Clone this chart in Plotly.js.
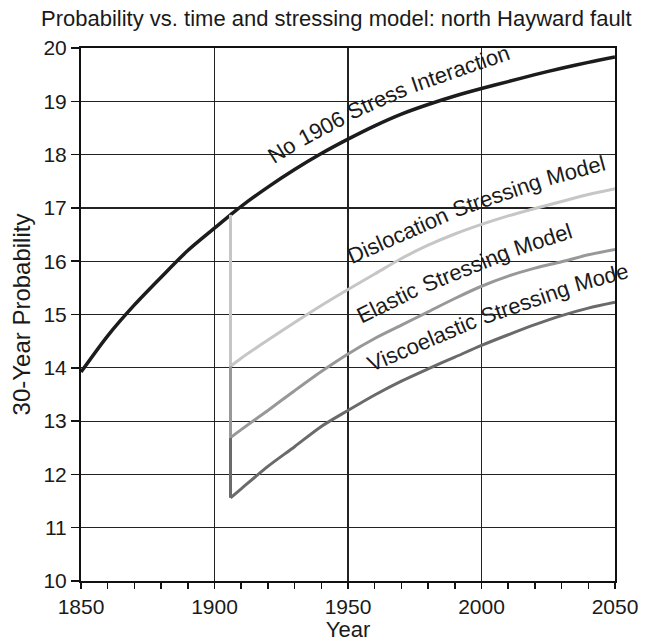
<!DOCTYPE html>
<html>
<head>
<meta charset="utf-8">
<script src="https://cdn.plot.ly/plotly-3.0.1.min.js"></script>
<style>html,body{margin:0;padding:0;background:#fff;}#chart{width:666px;height:642px;}</style>
</head>
<body>
<div id="chart"></div>
<script>
// ---- data ----
var noStressYears = [1850,1860,1870,1880,1890,1900,1906,1910,1920,1930,1940,1950,1960,1970,1980,1990,2000,2010,2020,2030,2040,2050];
var noStressProb  = [13.92,14.6,15.18,15.7,16.2,16.62,16.87,17.03,17.39,17.72,18.02,18.29,18.54,18.76,18.94,19.1,19.24,19.37,19.5,19.62,19.73,19.83];

// first entry = top of the 1906 drop, second = value just after the drop
var modelYears = [1906,1906,1910,1920,1930,1940,1950,1960,1970,1980,1990,2000,2010,2020,2030,2040,2050];
var dislocationProb  = [16.87,14.03,14.18,14.52,14.85,15.17,15.47,15.76,16.05,16.3,16.51,16.69,16.85,16.99,17.12,17.25,17.36];
var elasticProb      = [14.03,12.69,12.84,13.2,13.57,13.93,14.26,14.55,14.8,15.05,15.3,15.53,15.72,15.87,15.99,16.12,16.22];
var viscoelasticProb = [12.69,11.56,11.73,12.15,12.52,12.9,13.2,13.49,13.75,13.98,14.2,14.42,14.62,14.81,14.98,15.12,15.23];

var seriesNames = ["No 1906 Stress Interaction","Dislocation Stressing Model","Elastic Stressing Model","Viscoelastic Stressing Mode"];

// curved in-plot labels: baseline start (year, probability) and one angle per word
var labelStartX = [1922.7,1951.8,1955.7,1959.2];
var labelStartY = [17.77,15.90,14.78,13.88];
var labelWordAngle = [[32,28,24,19],[24,19,15],[26,22,18],[23,19,15]];

var xTicks = [1850,1900,1950,2000,2050];
var yTicks = [10,11,12,13,14,15,16,17,18,19,20];

var FONT = "'Liberation Sans', Arial, Helvetica, sans-serif";
var LABEL_SIZE = 22;
var colors = ["#1c1c1c","#c6c6c6","#989898","#6a6a6a"];
var widths = [3.5,3,3,3];
var M = {l: 81, r: 51, t: 48, b: 61}, W = 666, H = 642;
var X0 = 1850, X1 = 2050, Y0 = 10, Y1 = 20;

var modelSeries = [dislocationProb, elasticProb, viscoelasticProb];

var traces = [
  {x: noStressYears, y: noStressProb, mode: "lines", line: {color: colors[0], width: widths[0], shape: "spline", smoothing: 0.8}, name: seriesNames[0]}
];
modelSeries.forEach(function(s, i){
  traces.push({x: modelYears.slice(0,2), y: s.slice(0,2), mode: "lines",
               line: {color: colors[i+1], width: widths[i+1]}, name: seriesNames[i+1]});
  traces.push({x: modelYears.slice(1), y: s.slice(1), mode: "lines",
               line: {color: colors[i+1], width: widths[i+1], shape: "spline", smoothing: 0.8}, name: seriesNames[i+1]});
});

// lay words along a bent baseline, measuring real text widths
var pxPerX = (W - M.l - M.r) / (X1 - X0), pxPerY = (H - M.t - M.b) / (Y1 - Y0);
var ctx = document.createElement("canvas").getContext("2d");
ctx.font = LABEL_SIZE + "px " + FONT;
var spaceW = ctx.measureText(" ").width;
var annotations = [];
seriesNames.forEach(function(name, i){
  var px = M.l + (labelStartX[i] - X0) * pxPerX;
  var py = M.t + (Y1 - labelStartY[i]) * pxPerY;
  name.split(" ").forEach(function(word, j){
    var a = labelWordAngle[i][j] * Math.PI / 180;
    var w = ctx.measureText(word).width;
    var ux = Math.cos(a), uy = -Math.sin(a);      // along text
    var nx = -Math.sin(a), ny = -Math.cos(a);     // up from baseline
    var up = 0.46 * LABEL_SIZE;
    var cx = px + ux * w / 2 + nx * up, cy = py + uy * w / 2 + ny * up;
    annotations.push({x: X0 + (cx - M.l) / pxPerX, y: Y1 - (cy - M.t) / pxPerY, xref: "x", yref: "y",
                      text: word, showarrow: false, textangle: -labelWordAngle[i][j],
                      font: {family: FONT, size: LABEL_SIZE, color: "#1a1a1a"}});
    px += ux * (w + spaceW); py += uy * (w + spaceW);
  });
});

var layout = {
  width: W, height: H,
  margin: M,
  paper_bgcolor: "#fff", plot_bgcolor: "#fff",
  showlegend: false,
  title: {text: "Probability vs. time and stressing model: north Hayward fault",
          font: {family: FONT, size: 22, color: "#1a1a1a"},
          x: 0.505, xref: "container", xanchor: "center", y: 0.972, yref: "container", yanchor: "middle"},
  xaxis: {range: [X0, X1], tickvals: xTicks, ticks: "outside", ticklen: 6, tickwidth: 1.5, tickcolor: "#111",
          minor: {dtick: 10, tick0: 1850, ticks: "outside", ticklen: 6, tickwidth: 1.5, tickcolor: "#111", showgrid: false},
          showgrid: true, gridcolor: "#222", gridwidth: 1.2,
          showline: true, linecolor: "#111", linewidth: 2, mirror: true, zeroline: false,
          tickfont: {family: FONT, size: 21, color: "#1a1a1a"},
          title: {text: "Year", font: {family: FONT, size: 22, color: "#1a1a1a"}, standoff: 3}},
  yaxis: {range: [Y0, Y1], tickvals: yTicks, ticks: "outside", ticklen: 8, tickwidth: 1.5, tickcolor: "#111",
          showgrid: true, gridcolor: "#222", gridwidth: 1.2,
          showline: true, linecolor: "#111", linewidth: 2, mirror: true, zeroline: false,
          tickfont: {family: FONT, size: 21, color: "#1a1a1a"},
          title: {text: "30-Year Probability", font: {family: FONT, size: 24, color: "#1a1a1a"}, standoff: 6}},
  annotations: annotations
};

Plotly.newPlot("chart", traces, layout, {staticPlot: true, displayModeBar: false});
</script>
</body>
</html>
